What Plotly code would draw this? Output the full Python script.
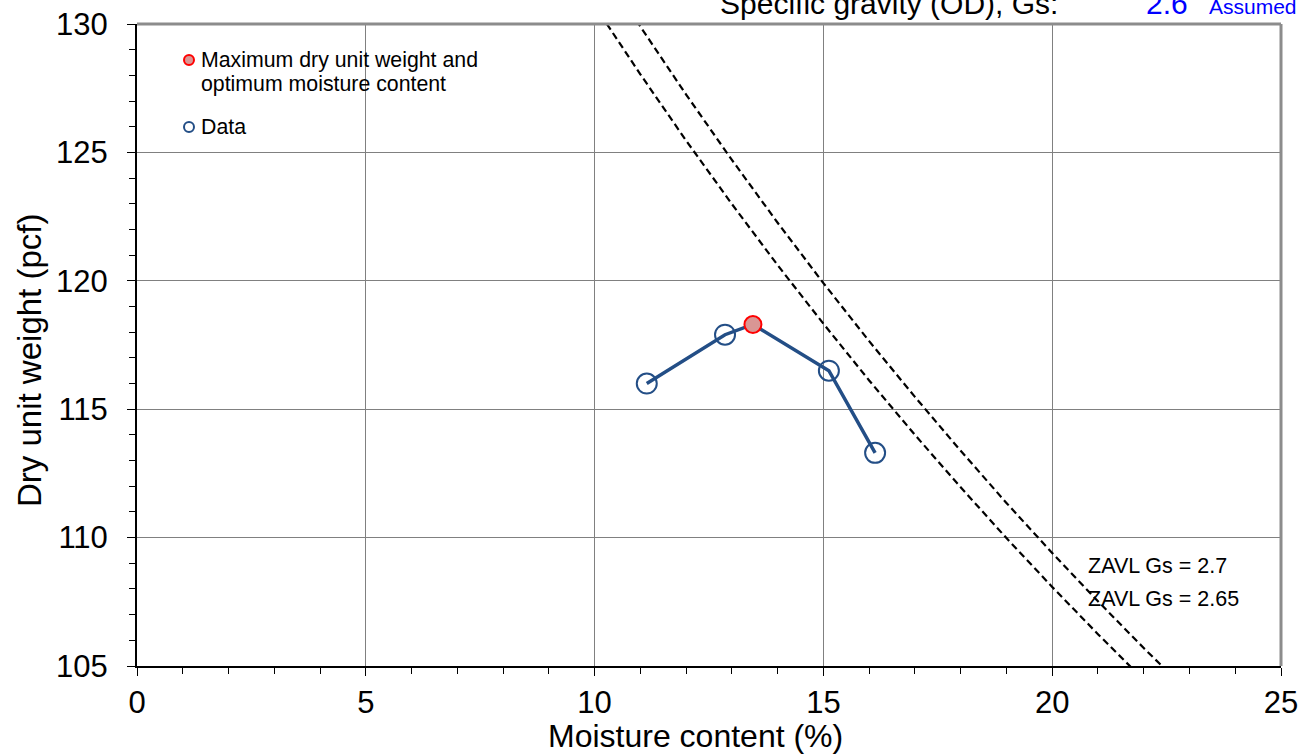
import plotly.graph_objects as go

# Compaction test results
moisture = [11.14, 12.85, 15.12, 16.13]          # moisture content (%)
dry_unit_weight = [116.0, 117.9, 116.5, 113.3]    # dry unit weight (pcf)

# Maximum dry unit weight / optimum moisture content
opt_moisture = [13.46]
max_dry_unit_weight = [118.3]

# Zero-air-voids lines (moisture %, dry unit weight pcf)
zav_moisture = [10, 11, 12, 13, 14, 15, 16, 17, 18, 19, 20, 21, 22, 23]
zav_gs270 = [132.66, 129.90, 127.25, 124.71, 122.26, 119.91, 117.65, 115.48,
             113.38, 111.35, 109.40, 107.52, 105.70, 103.94]
zav_gs265 = [130.72, 128.04, 125.46, 122.99, 120.61, 118.33, 116.12, 114.00,
             111.96, 109.98, 108.08, 106.24, 104.46, 102.75]

x_ticks = [0, 5, 10, 15, 20, 25]
y_ticks = [105, 110, 115, 120, 125, 130]

FONT = "Liberation Sans, Arial, sans-serif"
BLUE = "#234E86"

# compaction curve passes through all points including the optimum
curve = sorted(zip(moisture + opt_moisture, dry_unit_weight + max_dry_unit_weight))
curve_x = [p[0] for p in curve]
curve_y = [p[1] for p in curve]

fig = go.Figure()

for ys in (zav_gs270, zav_gs265):
    fig.add_trace(go.Scatter(
        x=zav_moisture, y=ys, mode="lines", showlegend=False,
        line=dict(color="black", width=2.2, dash="7px,4px"), hoverinfo="skip"))

fig.add_trace(go.Scatter(
    x=curve_x, y=curve_y, mode="lines", showlegend=False,
    line=dict(color=BLUE, width=3.5)))

fig.add_trace(go.Scatter(
    x=moisture, y=dry_unit_weight, mode="markers", name="Data", showlegend=False,
    marker=dict(symbol="circle-open", size=20, color=BLUE, line=dict(width=2))))

fig.add_trace(go.Scatter(
    x=opt_moisture, y=max_dry_unit_weight, mode="markers", showlegend=False,
    name="Maximum dry unit weight and optimum moisture content",
    marker=dict(symbol="circle", size=17, color="#D99694",
                line=dict(color="#FF0000", width=2))))

W, H = 1314, 755
L, R, T, B = 137, 33, 24, 89
pw, ph = W - L - R, H - T - B


def px_x(p):
    return (p - L) / pw


def px_y(p):
    return 1 - (p - T) / ph


shapes = [
    # legend background hides the grid behind it
    dict(type="rect", xref="paper", yref="paper", layer="between",
         x0=px_x(155), x1=px_x(498), y0=px_y(172), y1=px_y(27),
         fillcolor="white", line=dict(width=0)),
    # legend symbols
    dict(type="circle", xref="paper", yref="paper", xsizemode="pixel", ysizemode="pixel",
         xanchor=px_x(189), yanchor=px_y(60), x0=-5, x1=5, y0=-5, y1=5,
         fillcolor="#D99694", line=dict(color="#FF0000", width=2)),
    dict(type="circle", xref="paper", yref="paper", xsizemode="pixel", ysizemode="pixel",
         xanchor=px_x(189), yanchor=px_y(127), x0=-5, x1=5, y0=-5, y1=5,
         fillcolor="white", line=dict(color=BLUE, width=2)),
    # gray frame on top and right
    dict(type="line", xref="paper", yref="paper", x0=0, x1=1, y0=1, y1=1,
         line=dict(color="#8C8C8C", width=3)),
    dict(type="line", xref="paper", yref="paper", x0=1, x1=1, y0=0, y1=1,
         line=dict(color="#8C8C8C", width=3)),
]

annotations = [
    dict(text="Maximum dry unit weight and", x=px_x(199), y=px_y(60)),
    dict(text="optimum moisture content", x=px_x(199), y=px_y(84)),
    dict(text="Data", x=px_x(199), y=px_y(127)),
]
for a in annotations:
    a.update(xref="paper", yref="paper", xanchor="left", yanchor="middle",
             showarrow=False, font=dict(family=FONT, size=21.3, color="black"))

annotations += [
    dict(text="ZAVL Gs = 2.7", x=20.74, y=108.9, xref="x", yref="y", xanchor="left",
         yanchor="middle", showarrow=False, font=dict(family=FONT, size=21.5, color="black")),
    dict(text="ZAVL Gs = 2.65", x=20.74, y=107.6, xref="x", yref="y", xanchor="left",
         yanchor="middle", showarrow=False, font=dict(family=FONT, size=21.5, color="black")),
    dict(text="Specific gravity (OD), Gs:", x=px_x(1060), y=px_y(3), xref="paper",
         yref="paper", xanchor="right", yanchor="middle", showarrow=False,
         font=dict(family=FONT, size=30, color="black")),
    dict(text="2.6", x=px_x(1190), y=px_y(3), xref="paper", yref="paper",
         xanchor="right", yanchor="middle", showarrow=False,
         font=dict(family=FONT, size=30, color="#0000FF")),
    dict(text="Assumed", x=px_x(1207), y=px_y(6), xref="paper", yref="paper",
         xanchor="left", yanchor="middle", showarrow=False,
         font=dict(family=FONT, size=21, color="#0000FF")),
    # axis titles
    dict(text="Moisture content (%)", x=px_x(695), y=px_y(736), xref="paper",
         yref="paper", xanchor="center", yanchor="middle", showarrow=False,
         font=dict(family=FONT, size=32, color="black")),
    dict(text="Dry unit weight (pcf)", x=px_x(29), y=px_y(361), xref="paper",
         yref="paper", xanchor="center", yanchor="middle", showarrow=False,
         textangle=-90, font=dict(family=FONT, size=33, color="black")),
]

axis_common = dict(
    showgrid=True, gridcolor="#808080", gridwidth=1, zeroline=False,
    showline=True, linecolor="black", linewidth=2,
    ticks="outside", ticklen=8, tickwidth=1, tickcolor="black",
    tickfont=dict(family=FONT, size=31, color="black"),
    minor=dict(ticks="outside", ticklen=6, tickcolor="black", dtick=1, showgrid=False),
)

fig.update_layout(
    width=W, height=H,
    margin=dict(l=L, r=R, t=T, b=B, autoexpand=False),
    paper_bgcolor="white", plot_bgcolor="white",
    font=dict(family=FONT, color="black"),
    showlegend=False,
    shapes=shapes, annotations=annotations,
    xaxis=dict(range=[0, 25], tickvals=x_ticks, ticktext=[str(v) for v in x_ticks],
               **axis_common),
    yaxis=dict(range=[105, 130], tickvals=y_ticks, ticktext=[str(v) for v in y_ticks],
               ticklabelstandoff=13, **axis_common),
)

fig.write_html("out.html")
